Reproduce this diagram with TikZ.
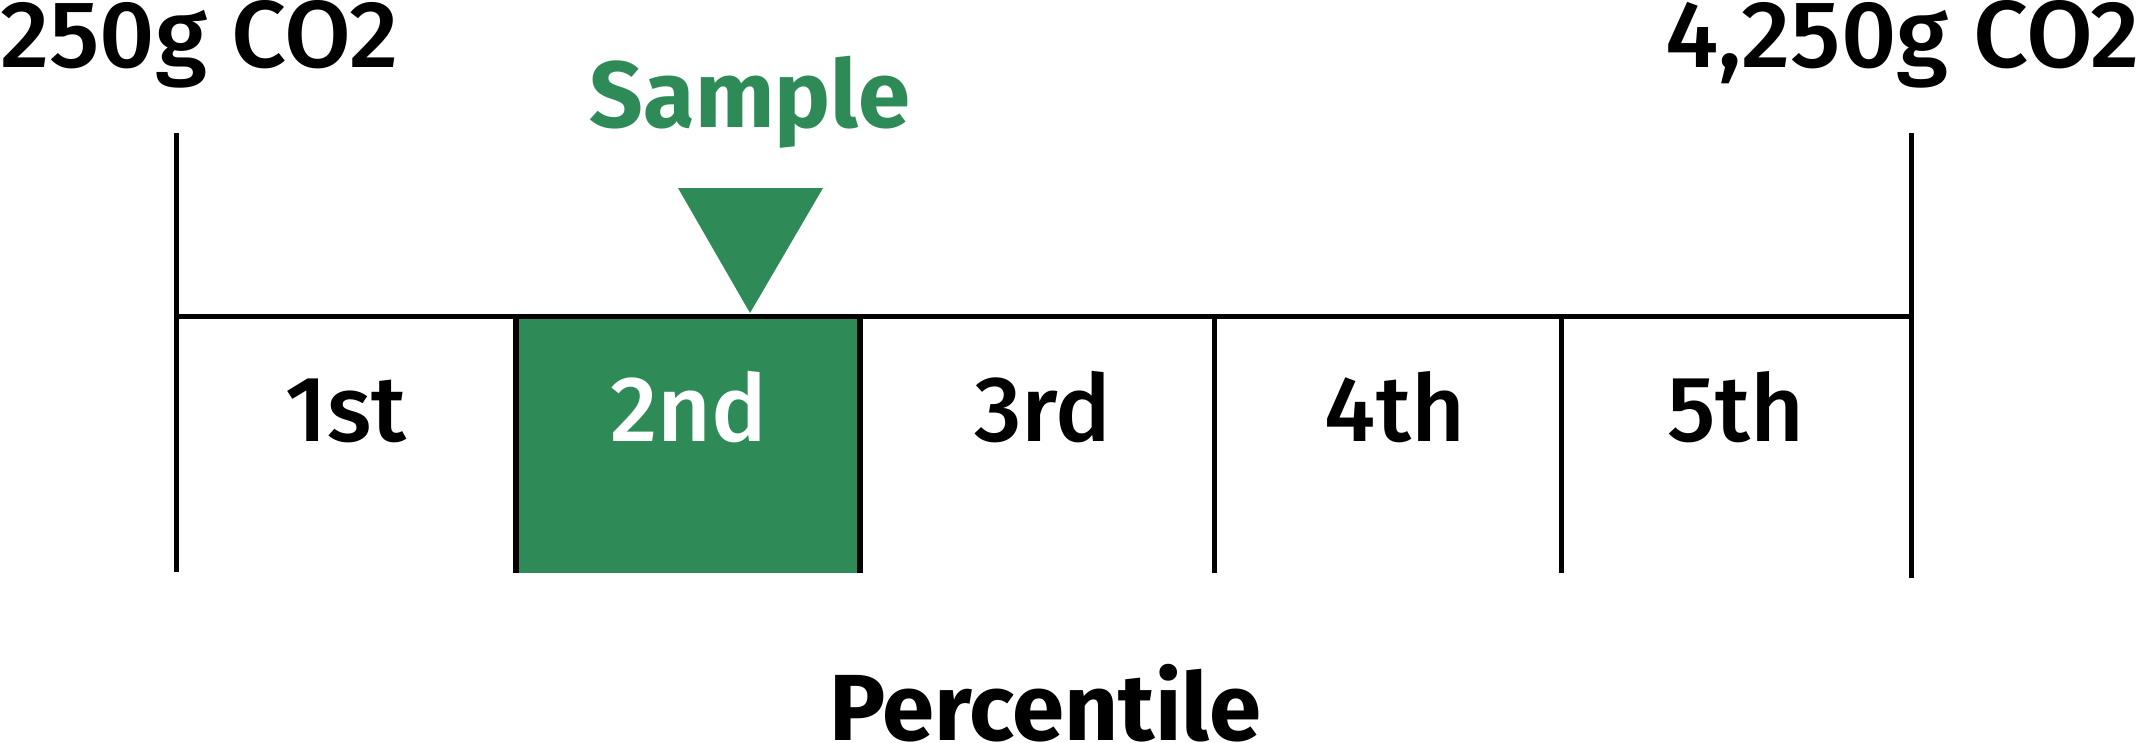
\documentclass[tikz,border=0pt]{standalone}
\usepackage{fontspec}
\setmainfont{Fira Sans}[UprightFont={* Medium},BoldFont={* Bold}]
\definecolor{samplegreen}{RGB}{46,139,87}
\begin{document}
\begin{tikzpicture}[x=1pt,y=-1pt,
  bigtext/.style={inner sep=0pt,font=\fontsize{93}{100}\selectfont},
  endtext/.style={inner sep=0pt,font=\fontsize{95}{100}\selectfont},
  boldtext/.style={inner sep=0pt,font=\fontsize{94}{100}\selectfont\bfseries},
  rule/.style={line width=5pt,line cap=butt}]
\useasboundingbox (0,0) rectangle (2140,742);
% green cell
\fill[samplegreen] (516,318) rectangle (860,573);
% axis lines
\draw[rule] (176,133) -- (176,572);
\draw[rule] (1911,133) -- (1911,578);
\draw[rule] (173.5,316) -- (1913.5,316);
\draw[line width=6pt] (516,316) -- (516,573);
\draw[line width=6pt] (860,316) -- (860,573);
\draw[line width=4.5pt] (1214.5,316) -- (1214.5,573);
\draw[line width=4.5pt] (1561.5,316) -- (1561.5,573);
% marker
\fill[samplegreen] (678,188) -- (823,188) -- (750,313) -- cycle;
% labels
\node[endtext,anchor=base west] (lo) at (0,67) {\scalebox{1.02}[1]{250g CO2}};
\node[endtext,anchor=base east] (hi) at (2140,67) {\scalebox{1.02}[1]{4,250g CO2}};
\node[boldtext,text=samplegreen,anchor=base] (sample) at (750,127) {Sample};
\node[bigtext,anchor=base] (p1) at (346,441) {1st};
\node[bigtext,anchor=base,text=white] (p2) at (689,441) {2nd};
\node[bigtext,anchor=base] (p3) at (1043,441) {3rd};
\node[bigtext,anchor=base] (p4) at (1395,441) {4th};
\node[bigtext,anchor=base] (p5) at (1736,441) {5th};
\node[boldtext,anchor=base] (pct) at (1045,740) {Percentile};
\end{tikzpicture}
\end{document}
